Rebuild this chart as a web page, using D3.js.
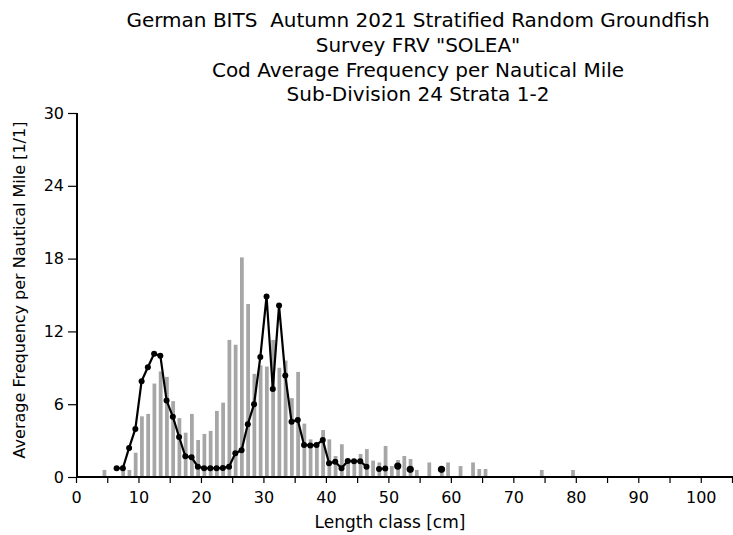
<!DOCTYPE html>
<html>
<head>
<meta charset="utf-8">
<script src="https://cdn.jsdelivr.net/npm/d3@7"></script>
<style>
  html, body { margin: 0; padding: 0; background: #fff; }
  svg { display: block; }
  .title { white-space: pre; }
</style>
</head>
<body>
<svg id="chart" width="733" height="535"></svg>
<script>
// ---- data ----
const titleLines = [
  'German BITS  Autumn 2021 Stratified Random Groundfish',
  'Survey FRV "SOLEA"',
  'Cod Average Frequency per Nautical Mile',
  'Sub-Division 24 Strata 1-2'
];
const xAxisLabel = "Length class [cm]";
const yAxisLabel = "Average Frequency per Nautical Mile [1/1]";
const yTicks = [0, 6, 12, 18, 24, 30];
const xTickLabels = [0, 10, 20, 30, 40, 50, 60, 70, 80, 90, 100];

// grey bars: length class (cm) and frequency
const barClasses = [4, 7, 8, 9, 10, 11, 12, 13, 14, 15, 16, 17, 18, 19, 20, 21, 22, 23, 24, 25, 26, 27, 28, 29, 30,
  31, 32, 33, 34, 35, 36, 37, 38, 39, 40, 41, 42, 43, 44, 45, 46, 47, 48, 49, 50, 51, 52, 53, 54, 56, 58, 59, 61, 63, 64, 65, 74, 79];
const barValues = [0.58, 1.0, 0.58, 2.0, 5.0, 5.2, 7.7, 8.7, 8.25, 6.25, 4.85, 3.65, 5.2, 3.05, 3.55, 3.8, 5.45, 6.13, 11.3, 10.9, 18.1, 14.26, 8.5, 9.2, 9.1,
  11.3, 9.0, 9.6, 6.5, 8.66, 4.4, 3.1, 2.7, 3.87, 3.1, 1.73, 2.7, 1.5, 1.48, 1.9, 2.3, 1.35, 1.2, 2.56, 0.9, 1.4, 1.73, 1.48, 0.58, 1.2, 0.8, 1.2, 0.9, 1.2, 0.66, 0.66, 0.58, 0.58];

// black line: length class (cm) and frequency (null = no value)
const lineClasses = [6, 7, 8, 9, 10, 11, 12, 13, 14, 15, 16, 17, 18, 19, 20, 21, 22, 23, 24, 25, 26, 27, 28, 29, 30,
  31, 32, 33, 34, 35, 36, 37, 38, 39, 40, 41, 42, 43, 44, 45, 46, 47, 48, 49, 50, 51, 52, 53, 54, 55, 56, 57, 58];
const lineValues = [0.72, 0.72, 2.4, 3.96, 7.9, 9.05, 10.15, 10.0, 6.3, 4.97, 3.3, 1.7, 1.62, 0.85, 0.72, 0.72, 0.72, 0.75, 0.85, 1.95, 2.2, 4.35, 6.0, 9.88, 14.88,
  7.26, 14.13, 8.36, 4.56, 4.7, 2.64, 2.6, 2.64, 3.05, 1.13, 1.26, 0.72, 1.32, 1.3, 1.3, 0.85, null, 0.66, 0.7, null, 0.9, null, 0.63, null, null, null, null, 0.63];

// ---- drawing ----
const svg = d3.select("#chart");
const font = "'DejaVu Sans', Verdana, sans-serif";

const x = d3.scaleLinear().domain([0, 105]).range([76, 732]);
const y = d3.scaleLinear().domain([0, 30]).range([477, 113]);

// title
svg.append("g").selectAll("text").data(titleLines).join("text")
  .attr("class", "title")
  .attr("x", 418)
  .attr("y", (d, i) => 27 + i * 24.8)
  .attr("text-anchor", "middle")
  .attr("font-family", font)
  .attr("font-size", 20)
  .attr("fill", "#000")
  .text(d => d);

// bars
const bars = barClasses.map((c, i) => ({c, v: barValues[i]}));
svg.append("g").selectAll("rect").data(bars).join("rect")
  .attr("x", d => x(d.c + 0.25))
  .attr("width", d => x(d.c + 0.85) - x(d.c + 0.25))
  .attr("y", d => y(d.v))
  .attr("height", d => y(0) - y(d.v))
  .attr("fill", "#a6a6a6");

// line
const pts = lineClasses.map((c, i) => ({c, v: lineValues[i]}));
const line = d3.line()
  .defined(d => d.v !== null)
  .x(d => x(d.c + 0.5))
  .y(d => y(d.v));
svg.append("path")
  .datum(pts)
  .attr("d", line)
  .attr("fill", "none")
  .attr("stroke", "#000")
  .attr("stroke-width", 2.2);

const isIsolated = (i) => (i === 0 || pts[i - 1].v === null) && (i === pts.length - 1 || pts[i + 1].v === null);
svg.append("g").selectAll("circle").data(pts.filter(d => d.v !== null)).join("circle")
  .attr("cx", d => x(d.c + 0.5))
  .attr("cy", d => y(d.v))
  .attr("r", d => isIsolated(pts.indexOf(d)) ? 3.6 : 3)
  .attr("fill", "#000");

// x axis
const xAxis = d3.axisBottom(x)
  .tickValues(d3.range(0, 106, 5))
  .tickSize(6)
  .tickFormat(d => xTickLabels.includes(d) ? d : "");
const gx = svg.append("g").attr("transform", `translate(0,${y(0)})`).call(xAxis);
gx.select(".domain").attr("stroke-width", 2).attr("d", `M${x(0)},0H733`);
gx.selectAll(".tick line").attr("stroke-width", 1.2);
gx.selectAll(".tick text")
  .attr("font-family", font)
  .attr("font-size", 16)
  .attr("dy", "1.05em")
  .attr("fill", "#000");

// y axis
const yAxis = d3.axisLeft(y)
  .tickValues(yTicks)
  .tickSize(9)
  .tickPadding(4);
const gy = svg.append("g").attr("transform", `translate(${x(0) + 1},0)`).call(yAxis);
gy.select(".domain").attr("stroke-width", 2).attr("d", `M0,${y(0)}V${y(30)}`);
gy.selectAll(".tick line").attr("stroke-width", 1.2);
gy.selectAll(".tick text")
  .attr("font-family", font)
  .attr("font-size", 16)
  .attr("fill", "#000");

// axis labels
svg.append("text")
  .attr("x", 390)
  .attr("y", 528)
  .attr("text-anchor", "middle")
  .attr("font-family", font)
  .attr("font-size", 17)
  .text(xAxisLabel);

svg.append("text")
  .attr("transform", `translate(25,290) rotate(-90)`)
  .attr("text-anchor", "middle")
  .attr("font-family", font)
  .attr("font-size", 16)
  .text(yAxisLabel);
</script>
</body>
</html>
